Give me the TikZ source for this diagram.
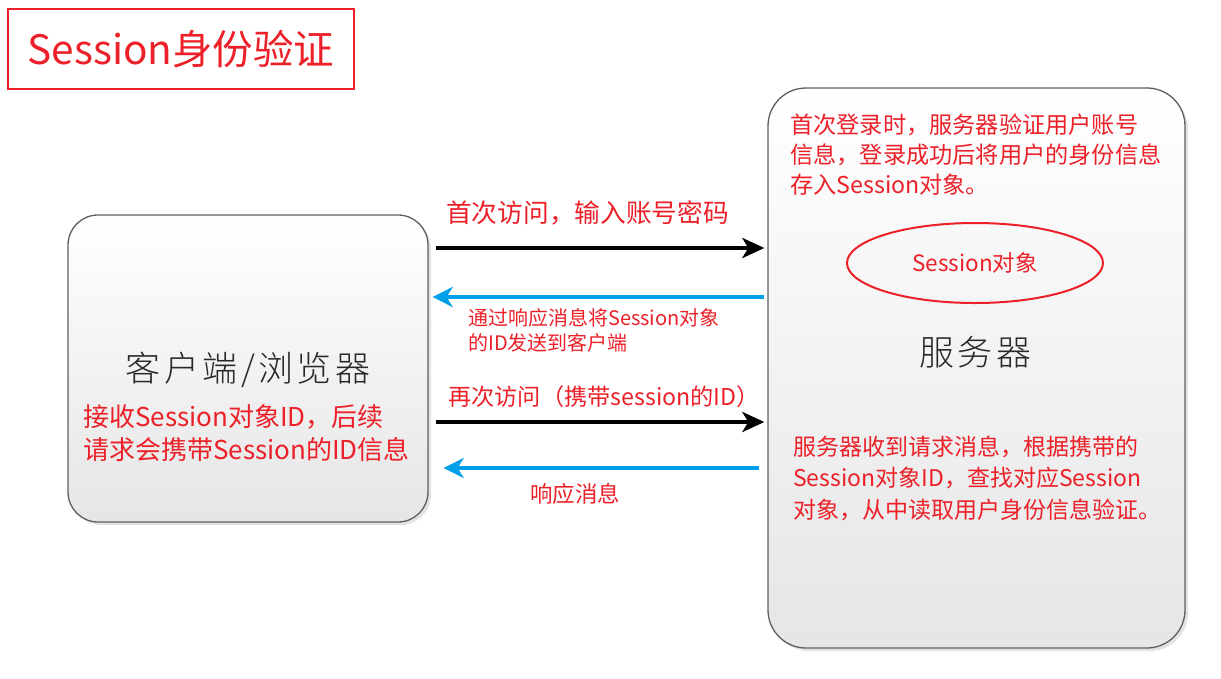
\documentclass[tikz,border=0pt]{standalone}
\usepackage{fontspec}
\setmainfont{Noto Sans CJK SC}
\newfontfamily\bigcjk[LetterSpace=10]{Noto Sans CJK SC Light}
\usetikzlibrary{arrows.meta,shadows,shapes.geometric}
\definecolor{myred}{RGB}{236,32,40}
\definecolor{myblue}{RGB}{0,160,233}
\definecolor{boxedge}{RGB}{95,95,95}
\definecolor{labgray}{RGB}{40,40,40}
\begin{document}
\begin{tikzpicture}[x=1pt,y=-1pt,
  box/.style={draw=boxedge,line width=1.3pt,top color=white,bottom color=black!10,
    drop shadow={opacity=0.22,shadow xshift=3pt,shadow yshift=-3pt},inner sep=0pt},
  redline/.style={text=myred,anchor=west,inner sep=0pt},
  blk/.style={draw=black,line width=4.5pt,-{Stealth[length=22pt,width=20pt,inset=6pt]}},
  blu/.style={draw=myblue,line width=4.5pt,-{Stealth[length=20pt,width=20pt,inset=6pt]}},
  biglabel/.style={text=labgray,inner sep=0pt,font=\bigcjk\fontsize{35}{40}\selectfont}
]
\useasboundingbox (0,0) rectangle (1221,678);

% title
\node[draw=myred,line width=2pt,minimum width=346pt,minimum height=80pt,inner sep=0pt,
  text=myred,font=\fontsize{40.5}{46}\selectfont] (title) at (181,49) {Session身份验证};

% boxes
\node[box,rounded corners=30pt,minimum width=360pt,minimum height=307pt] (client) at (248,368.5) {};
\node[box,rounded corners=38pt,minimum width=417pt,minimum height=560pt] (server) at (976.5,368) {};

% client texts
\node[biglabel] (clientlab) at (248,370) {客户端/浏览器};
\node[redline,font=\fontsize{26}{30}\selectfont] (cl1) at (83,417) {接收Session对象ID，后续};
\node[redline,font=\fontsize{26}{30}\selectfont] (cl2) at (83,450) {请求会携带Session的ID信息};

% server texts
\node[redline,font=\fontsize{23.2}{30}\selectfont] (st1) at (790,125) {首次登录时，服务器验证用户账号};
\node[redline,font=\fontsize{23.2}{30}\selectfont] (st2) at (790,155) {信息，登录成功后将用户的身份信息};
\node[redline,font=\fontsize{23.2}{30}\selectfont] (st3) at (790,185) {存入Session对象。};
\node[ellipse,draw=myred,line width=2pt,minimum width=256pt,minimum height=80pt,inner sep=0pt,
  text=myred,font=\fontsize{22.5}{26}\selectfont] (sess) at (975,263) {Session对象};
\node[biglabel] (serverlab) at (975,352) {服务器};
\node[redline,font=\fontsize{23}{30}\selectfont] (sb1) at (793,447) {服务器收到请求消息，根据携带的};
\node[redline,font=\fontsize{23}{30}\selectfont] (sb2) at (793,478) {Session对象ID，查找对应Session};
\node[redline,font=\fontsize{23}{30}\selectfont] (sb3) at (793,510) {对象，从中读取用户身份信息验证。};

% arrow labels
\node[redline,font=\fontsize{25.7}{30}\selectfont] (l1) at (446,213) {首次访问，输入账号密码};
\node[redline,font=\fontsize{20}{24}\selectfont] (l2a) at (468,318) {通过响应消息将Session对象};
\node[redline,font=\fontsize{20}{24}\selectfont] (l2b) at (468,343) {的ID发送到客户端};
\node[redline,font=\fontsize{23.2}{28}\selectfont] (l3) at (448,397) {再次访问（携带session的ID）};
\node[redline,font=\fontsize{22.5}{28}\selectfont] (l4) at (530,494) {响应消息};

% arrows
\coordinate (y1) at (0,248);
\coordinate (y2) at (0,297);
\coordinate (y3) at (0,422);
\coordinate (y4) at (0,468);
\draw[blk] ([xshift=7pt]client.east |- y1) -- ([xshift=-3pt]server.west |- y1);
\draw[blu] ([xshift=-3pt]server.west |- y2) -- ([xshift=4pt]client.east |- y2);
\draw[blk] ([xshift=7pt]client.east |- y3) -- ([xshift=-3pt]server.west |- y3);
\draw[blu] ([xshift=-8pt]server.west |- y4) -- ([xshift=15pt]client.east |- y4);
\end{tikzpicture}
\end{document}
